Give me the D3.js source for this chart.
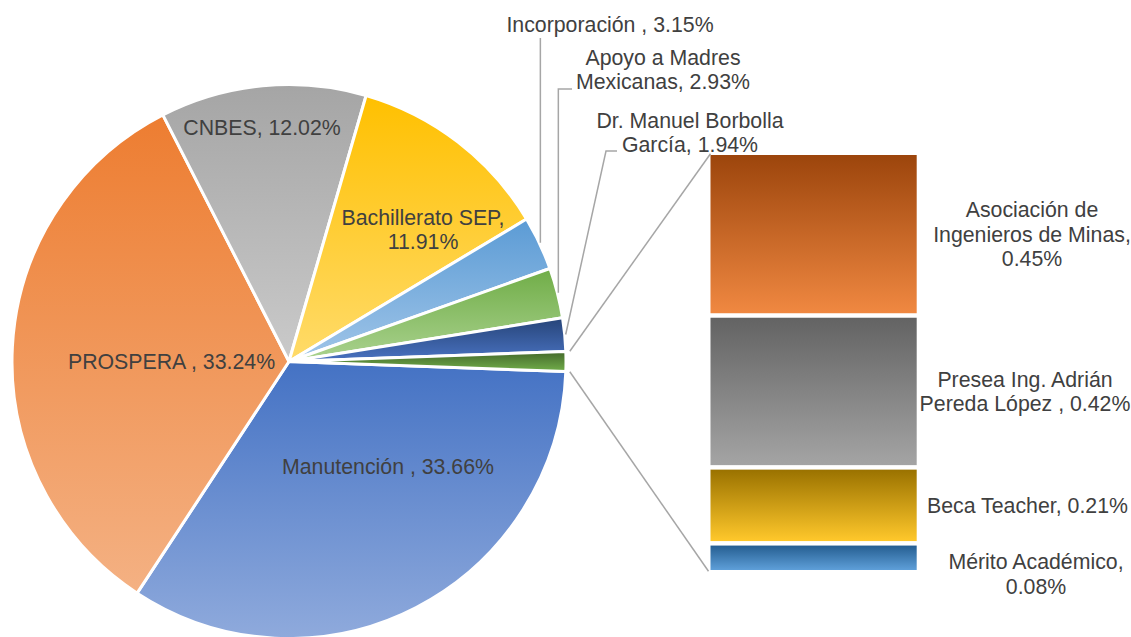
<!DOCTYPE html>
<html>
<head>
<meta charset="utf-8">
<script src="https://cdn.jsdelivr.net/npm/d3@7"></script>
<style>
  html, body { margin: 0; padding: 0; background: #fff; }
  svg { display: block; }
  text { font-family: "Liberation Sans", Arial, sans-serif; font-size: 21.3px; fill: #404040; }
</style>
</head>
<body>
<svg id="chart" width="1131" height="637"></svg>
<script>
// ---------- DATA ----------
const pieNames  = ["Manutención ", "PROSPERA ", "CNBES", "Bachillerato SEP", "Incorporación ", "Apoyo a Madres Mexicanas", "Dr. Manuel Borbolla García", "Otros"];
const pieValues = [33.66, 33.24, 12.02, 11.91, 3.15, 2.93, 1.94];
const barNames  = ["Asociación de Ingenieros de Minas", "Presea Ing. Adrián Pereda López ", "Beca Teacher", "Mérito Académico"];
const barValues = [0.45, 0.42, 0.21, 0.08];

// the "other" slice of the pie is the total of the bar
const otherValue = d3.sum(barValues);
const allPie = pieValues.concat([otherValue]);

// ---------- STYLE / LAYOUT ----------
const pieTop    = ["#4472C4", "#ED7D31", "#A5A5A5", "#FFC000", "#5B9BD5", "#70AD47", "#264478", "#43682B"];
const pieBottom = ["#8FAADC", "#F4B183", "#CACACA", "#FFDB6A", "#A0C5E8", "#AAD28F", "#4A73C2", "#72AE4A"];
const barTop    = ["#9C450C", "#636363", "#9A7200", "#255E91"];
const barBottom = ["#F08841", "#A4A4A4", "#FFC82B", "#5E9FD9"];

// label line breaks (index of slice -> lines)
const pieLabelLines = [
  ["Manutención , 33.66%"],
  ["PROSPERA , 33.24%"],
  ["CNBES, 12.02%"],
  ["Bachillerato SEP,", "11.91%"],
  ["Incorporación , 3.15%"],
  ["Apoyo a Madres", "Mexicanas, 2.93%"],
  ["Dr. Manuel Borbolla", "García, 1.94%"],
  null
];
const barLabelLines = [
  ["Asociación de", "Ingenieros de Minas,", "0.45%"],
  ["Presea Ing. Adrián", "Pereda López , 0.42%"],
  ["Beca Teacher, 0.21%"],
  ["Mérito Académico,", "0.08%"]
];
// label anchors (text centre x, first baseline y)
const pieLabelPos = [[388, 474], [171.5, 369], [262, 135], [423, 225], [610, 32], [663, 65], [690, 128]];
// leader line elbows for outside labels: [elbowX|null, elbowY, endX|null]
const leaderLayout = {4: {ey: 38}, 5: {ey: 89, ex: 572}, 6: {bx: 606, ey: 151, ex: 617}};
const barLabelX = [1032, 1025, 1027.5, 1036];
const barLabelShift = [0, 0, 0, 16];

const W = 1131, H = 637;
const cx = 289, cy = 361.5, R = 277;
const lineH = 24.3;
const capHalf = 7.6;

const svg = d3.select("#chart");
const defs = svg.append("defs");

function vgrad(id, c0, c1) {
  const g = defs.append("linearGradient").attr("id", id)
    .attr("x1", 0).attr("y1", 0).attr("x2", 0).attr("y2", 1);
  g.append("stop").attr("offset", "0%").attr("stop-color", c0);
  g.append("stop").attr("offset", "100%").attr("stop-color", c1);
}
allPie.forEach((d, i) => vgrad("pg" + i, pieTop[i], pieBottom[i]));
barValues.forEach((d, i) => vgrad("bg" + i, barTop[i], barBottom[i]));

// ---------- PIE ----------
const total = d3.sum(allPie);
const otherAngle = 2 * Math.PI * otherValue / total;
const start = Math.PI / 2 + otherAngle / 2;
const pie = d3.pie().sort(null).value(d => d).startAngle(start).endAngle(start + 2 * Math.PI);
const arcs = pie(allPie);
const arc = d3.arc().innerRadius(0).outerRadius(R);

const gPie = svg.append("g").attr("transform", `translate(${cx},${cy})`);
gPie.selectAll("path").data(arcs).join("path")
  .attr("d", arc)
  .attr("fill", (d, i) => `url(#pg${i})`)
  .attr("stroke", "#fff")
  .attr("stroke-width", 3)
  .attr("stroke-linejoin", "round");

function polar(a, r) { return [cx + r * Math.sin(a), cy - r * Math.cos(a)]; }

// ---------- BAR ----------
const barX0 = 710.5, barX1 = 916.7;
const xBar = d3.scaleLinear().domain([0, 1]).range([barX0, barX1]);
const yBar = d3.scaleLinear().domain([0, otherValue]).range([152.75, 572.25]);
const gap = 4.5;
let cum = 0;
const barSegs = barValues.map((v, i) => { const s = {i, v, y0: cum, y1: cum + v}; cum += v; return s; });

svg.append("g").selectAll("rect").data(barSegs).join("rect")
  .attr("x", xBar(0))
  .attr("width", xBar(1) - xBar(0))
  .attr("y", d => yBar(d.y0) + gap / 2)
  .attr("height", d => yBar(d.y1) - yBar(d.y0) - gap)
  .attr("fill", d => `url(#bg${d.i})`);

// ---------- SERIES LINES ----------
const oArc = arcs[arcs.length - 1];
const lineG = svg.append("g").attr("fill", "none").attr("stroke", "#A6A6A6").attr("stroke-width", 1.5);
const pTop = polar(oArc.startAngle, R + 4);
const pBot = polar(oArc.endAngle, R + 4);
lineG.append("line").attr("x1", pTop[0]).attr("y1", pTop[1]).attr("x2", xBar(0)).attr("y2", yBar(0) + 1);
lineG.append("line").attr("x1", pBot[0]).attr("y1", pBot[1]).attr("x2", xBar(0) - 2).attr("y2", yBar(otherValue) - 1);

// ---------- LEADER LINES ----------
Object.keys(leaderLayout).forEach(k => {
  const i = +k, L = leaderLayout[k];
  const a = (arcs[i].startAngle + arcs[i].endAngle) / 2;
  const p = polar(a, R + 1);
  const pts = [p];
  if (L.bx != null) pts.push([L.bx, L.ey]); else pts.push([p[0], L.ey]);
  if (L.ex != null) pts.push([L.ex, L.ey]);
  lineG.append("path").attr("d", d3.line()(pts));
});

// ---------- LABELS ----------
const gLab = svg.append("g").attr("text-anchor", "middle");
pieLabelPos.forEach((pos, i) => {
  const t = gLab.append("text").attr("x", pos[0]).attr("y", pos[1]);
  pieLabelLines[i].forEach((ln, j) => {
    t.append("tspan").attr("x", pos[0]).attr("y", pos[1] + j * lineH).text(ln);
  });
});
barSegs.forEach((s, i) => {
  const lines = barLabelLines[i];
  const mid = (yBar(s.y0) + yBar(s.y1)) / 2;
  const y0 = mid - (lines.length - 1) / 2 * lineH + capHalf + barLabelShift[i];
  const t = gLab.append("text").attr("x", barLabelX[i]).attr("y", y0);
  lines.forEach((ln, j) => {
    t.append("tspan").attr("x", barLabelX[i]).attr("y", y0 + j * lineH).text(ln);
  });
});
</script>
</body>
</html>
